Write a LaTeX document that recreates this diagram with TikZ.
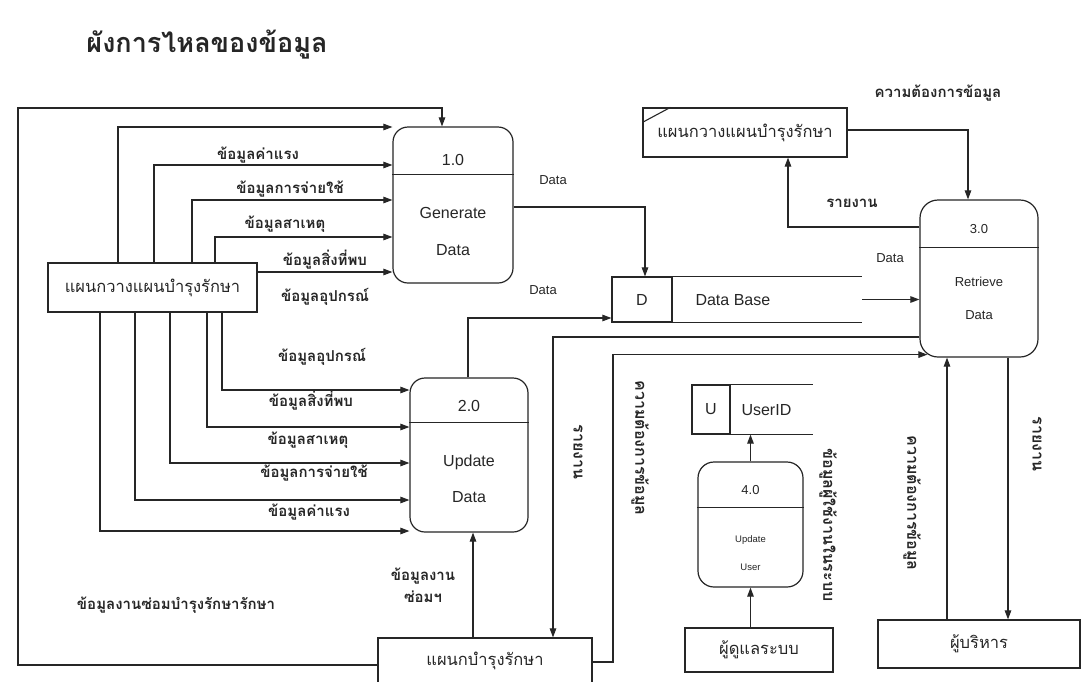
\documentclass[tikz,border=0pt]{standalone}
\usepackage{fontspec}
\setmainfont{Liberation Sans}
\newfontfamily\thai[Script=Thai]{Loma}
\usetikzlibrary{arrows.meta}

\begin{document}
\begin{tikzpicture}[x=1pt,y=-1pt,
  ink/.style={draw=black!85, line width=1.1pt},
  flow/.style={ink, -{Triangle[length=9pt,width=6.5pt]}},
  proc/.style={ink, line width=1.2pt, rounded corners=#1, inner sep=0pt},
  proc/.default=15pt,
  boxed/.style={ink, line width=1.2pt, inner sep=0pt},
  th/.style={font=\thai\bfseries\fontsize{15}{18}\selectfont, text=black!85},
  thbig/.style={font=\thai\fontsize{16.5}{19}\selectfont, text=black!85},
  vlab/.style={th, font=\thai\bfseries\fontsize{16}{18}\selectfont, rotate=-90},
  lat/.style={font=\fontsize{16}{19}\selectfont, text=black!85},
  latsm/.style={font=\fontsize{13}{15}\selectfont, text=black!85},
  lattiny/.style={font=\fontsize{9.5}{11}\selectfont, text=black!85},
]
\useasboundingbox (0,0) rectangle (1088,681);
\fill[white] (0,0) rectangle (1088,681);
\clip (0,0) rectangle (1088,681);

% title
\node[font=\thai\bfseries\fontsize{27}{32}\selectfont, text=black!85] (title) at (207,45) {ผังการไหลของข้อมูล};

% processes
\node[proc, minimum width=120pt, minimum height=156pt] (p1) at (453,205) {};
\draw[ink] ([yshift=-48pt]p1.north west) -- ([yshift=-48pt]p1.north east);
\node[lat] (p1id) at (453,160) {1.0};
\node[lat] (p1a) at (453,213) {Generate};
\node[lat] (p1b) at (453,250) {Data};

\node[proc, minimum width=118pt, minimum height=154pt] (p2) at (469,455) {};
\draw[ink] ([yshift=-45pt]p2.north west) -- ([yshift=-45pt]p2.north east);
\node[lat] (p2id) at (469,406) {2.0};
\node[lat] (p2a) at (469,462) {Update};
\node[lat] (p2b) at (469,497) {Data};

\node[proc=18pt, minimum width=118pt, minimum height=157pt] (p3) at (979,278.5) {};
\draw[ink] ([yshift=-48pt]p3.north west) -- ([yshift=-48pt]p3.north east);
\node[latsm] (p3id) at (979,229) {3.0};
\node[latsm] (p3a) at (979,282) {Retrieve};
\node[latsm] (p3b) at (979,315) {Data};
\coordinate (p3c) at ([shift={(8pt,3pt)}]p3.south west);

\node[proc=16pt, minimum width=105pt, minimum height=125pt] (p4) at (750.5,524.5) {};
\draw[ink] ([yshift=-46pt]p4.north west) -- ([yshift=-46pt]p4.north east);
\node[latsm] (p4id) at (750.5,490) {4.0};
\node[lattiny] (p4a) at (750.5,540) {Update};
\node[lattiny] (p4b) at (750.5,567) {User};

% data stores
\node[boxed, lat, minimum width=60pt, minimum height=45pt] (D) at (642,299.5) {D};
\coordinate (Dend) at (862,299.5);
\draw[ink] (D.north east) -- (D.north east -| Dend);
\draw[ink] (D.south east) -- (D.south east -| Dend);
\node[lat, anchor=west] (Dname) at (692,300) {Data Base};

\node[boxed, lat, minimum width=38pt, minimum height=49pt] (U) at (711,409.5) {U};
\coordinate (Uend) at (813,409.5);
\draw[ink] (U.north east) -- (U.north east -| Uend);
\draw[ink] (U.south east) -- (U.south east -| Uend);
\node[lat, anchor=west] (Uname) at (738,410) {UserID};

% external entities
\node[boxed, thbig, minimum width=209pt, minimum height=49pt] (E1) at (152.5,287.5) {แผนกวางแผนบำรุงรักษา};
\node[boxed, thbig, minimum width=204pt, minimum height=49pt] (E2) at (745,132.5) {แผนกวางแผนบำรุงรักษา};
\draw[ink] ([yshift=-15pt]E2.north west) -- ([xshift=28pt]E2.north west);
\node[boxed, thbig, minimum width=214pt, minimum height=46pt] (E3) at (485,661) {แผนกบำรุงรักษา};
\node[boxed, thbig, minimum width=148pt, minimum height=44pt] (E4) at (759,650) {ผู้ดูแลระบบ};
\node[boxed, thbig, minimum width=202pt, minimum height=48pt] (E5) at (979,644) {ผู้บริหาร};

% planning department -> 1.0
\draw[flow] (118,0 |- E1.north) |- (p1.west |- 0,127);
\draw[flow] (154,0 |- E1.north) |- (p1.west |- 0,165);
\draw[flow] (192,0 |- E1.north) |- (p1.west |- 0,200);
\draw[flow] (215,0 |- E1.north) |- (p1.west |- 0,237);
\draw[flow] (E1.east |- 0,272) -- (p1.west |- 0,272);
\node[th] (l1a) at (258,155) {ข้อมูลค่าแรง};
\node[th] (l1b) at (290,189) {ข้อมูลการจ่ายใช้};
\node[th] (l1c) at (285,224) {ข้อมูลสาเหตุ};
\node[th] (l1d) at (325,260) {ข้อมูลสิ่งที่พบ};
\node[th] (l1e) at (325,297) {ข้อมูลอุปกรณ์};

% planning department -> 2.0
\draw[flow] (222,0 |- E1.south) |- (p2.west |- 0,390);
\draw[flow] (207,0 |- E1.south) |- (p2.west |- 0,427);
\draw[flow] (170,0 |- E1.south) |- (p2.west |- 0,463);
\draw[flow] (135,0 |- E1.south) |- (p2.west |- 0,500);
\draw[flow] (100,0 |- E1.south) |- (p2.west |- 0,531);
\node[th] (l2a) at (322,357) {ข้อมูลอุปกรณ์};
\node[th] (l2b) at (311,401) {ข้อมูลสิ่งที่พบ};
\node[th] (l2c) at (308,440) {ข้อมูลสาเหตุ};
\node[th] (l2d) at (314,473) {ข้อมูลการจ่ายใช้};
\node[th] (l2e) at (309,512) {ข้อมูลค่าแรง};

% maintenance department -> 1.0 (outer loop)
\draw[flow] (E3.west |- 0,665) -| (18,108) -| (442,0 |- p1.north);
\node[th] (l3) at (176,605) {ข้อมูลงานซ่อมบำรุงรักษารักษา};

% maintenance department -> 2.0
\draw[flow] (473,0 |- E3.north) -- (473,0 |- p2.south);
\node[th, align=center] (l4) at (423,585) {ข้อมูลงาน\\[4pt]ซ่อมฯ};

% processes -> data base
\draw[flow] (p1.east |- 0,207) -| (645,0 |- D.north);
\node[latsm] (l5) at (553,180) {Data};
\draw[flow] (468,0 |- p2.north) |- (D.west |- 0,318);
\node[latsm] (l6) at (543,290) {Data};

% data base -> 3.0
\draw[flow] (Dend) -- (p3.west |- Dend);
\node[latsm] (l7) at (890,258) {Data};

% planning department <-> 3.0
\draw[flow] (E2.east |- 0,130) -| (968,0 |- p3.north);
\node[th] (l8) at (938,93) {ความต้องการข้อมูล};
\draw[flow] (p3.west |- 0,227) -| (788,0 |- E2.south);
\node[th] (l9) at (852,203) {รายงาน};

% 3.0 <-> maintenance department
\draw[flow] (p3.west |- 0,337) -| (553,0 |- E3.north);
\node[vlab] (l10) at (578,452) {รายงาน};
\draw[flow] (E3.east |- 0,662) -| (613,0 |- p3c) -- (p3c);
\node[vlab] (l11) at (640,448) {ความต้องการข้อมูล};

% user maintenance
\draw[flow] (p4.north) -- (p4.north |- U.south);
\draw[flow] (p4.south |- E4.north) -- (p4.south);
\node[vlab] (l12) at (828,525) {ข้อมูลผู้ใช้งานในระบบ};

% executives <-> 3.0
\draw[flow] (947,0 |- E5.north) -- (947,0 |- p3.south);
\node[vlab] (l13) at (912,503) {ความต้องการข้อมูล};
\draw[flow] (1008,0 |- p3.south) -- (1008,0 |- E5.north);
\node[vlab] (l14) at (1037,444) {รายงาน};
\end{tikzpicture}
\end{document}
